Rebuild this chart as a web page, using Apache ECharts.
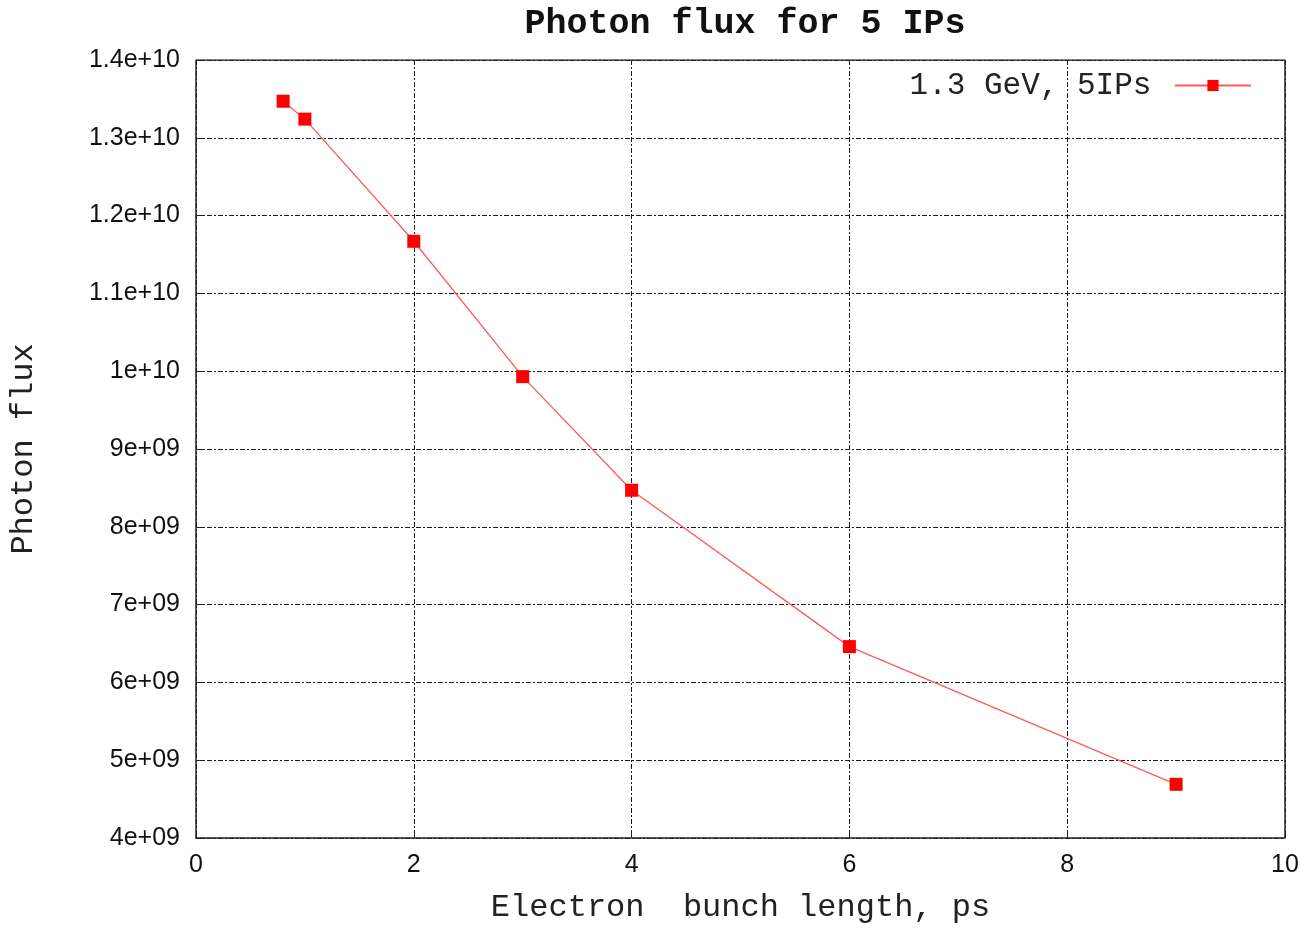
<!DOCTYPE html>
<html>
<head>
<meta charset="utf-8">
<script src="https://cdn.jsdelivr.net/npm/echarts@6/dist/echarts.min.js"></script>
<style>
  html, body { margin: 0; padding: 0; background: #fff; }
  #chart { width: 1315px; height: 929px; }
</style>
</head>
<body>
<div id="chart"></div>
<script>
// Electron bunch length (ps) and resulting photon flux for 5 interaction points
const bunchLength = [0.8, 1, 2, 3, 4, 6, 9];
const photonFlux = [1.347e10, 1.324e10, 1.167e10, 9.93e9, 8.47e9, 6.46e9, 4.69e9];
const seriesName = '1.3 GeV, 5IPs';

const chart = echarts.init(document.getElementById('chart'), null, { renderer: 'canvas' });

const mono = '"Liberation Mono", "DejaVu Sans Mono", monospace';
const sans = '"Liberation Sans", Arial, sans-serif';

// dash-dot grid, as in gnuplot's default grid style
const gridLine = { show: true, lineStyle: { color: '#1a1a1a', width: 1, type: [5, 2, 2, 2] } };

function fmtY(v) {
  if (v === 0) return '0';
  const e = Math.floor(Math.log10(v) + 1e-9);
  let m = v / Math.pow(10, e);
  m = Math.round(m * 10) / 10;
  const ms = (m === Math.round(m)) ? String(m) : m.toFixed(1);
  const es = e < 10 ? '0' + e : String(e);
  return ms + 'e+' + es;
}

chart.setOption({
  backgroundColor: '#fff',
  animation: false,
  title: {
    text: 'Photon flux for 5 IPs',
    left: 740, top: 2, textAlign: 'center',
    textStyle: { fontFamily: mono, fontSize: 35, fontWeight: 'bold', color: '#111' }
  },
  legend: {
    right: 58, top: 65,
    align: 'right',
    itemWidth: 76, itemHeight: 14, itemGap: 10,
    formatter: name => name + ' ',
    textStyle: { fontFamily: mono, fontSize: 31, color: '#222' },
    data: [seriesName]
  },
  grid: { left: 196, right: 30, top: 60, bottom: 87, containLabel: false },
  xAxis: {
    type: 'value', min: 0, max: 10, interval: 2,
    name: 'Electron  bunch length, ps',
    nameLocation: 'middle', nameGap: 54,
    nameTextStyle: { fontFamily: mono, fontSize: 32, color: '#222' },
    axisLine: { show: true, onZero: false, lineStyle: { color: '#222', width: 1.5 } },
    axisTick: { show: true, inside: true, length: 8, lineStyle: { color: '#222' } },
    axisLabel: { fontFamily: sans, fontSize: 25, color: '#111', margin: 15 },
    splitLine: gridLine
  },
  yAxis: {
    type: 'value', min: 4e9, max: 1.4e10, interval: 1e9,
    name: 'Photon flux',
    nameLocation: 'middle', nameGap: 156, nameRotate: 90,
    nameTextStyle: { fontFamily: mono, fontSize: 32, color: '#222' },
    axisLine: { show: true, lineStyle: { color: '#222', width: 1.5 } },
    axisTick: { show: true, inside: true, length: 8, lineStyle: { color: '#222' } },
    axisLabel: { fontFamily: sans, fontSize: 25, color: '#111', margin: 16, formatter: fmtY },
    splitLine: gridLine
  },
  series: [
    {
      name: seriesName,
      type: 'line',
      data: bunchLength.map((x, i) => [x, photonFlux[i]]),
      symbol: 'rect', symbolSize: 13,
      itemStyle: { color: '#ff0000' },
      lineStyle: { color: '#ff5a5a', width: 1.3 },
      z: 5
    },
    {
      // mirrored top and right frame edges
      type: 'line', data: [[0, 1.4e10], [10, 1.4e10], [10, 4e9]],
      symbol: 'none', silent: true,
      lineStyle: { color: '#222', width: 1.5 }, z: 3
    }
  ]
});
</script>
</body>
</html>
